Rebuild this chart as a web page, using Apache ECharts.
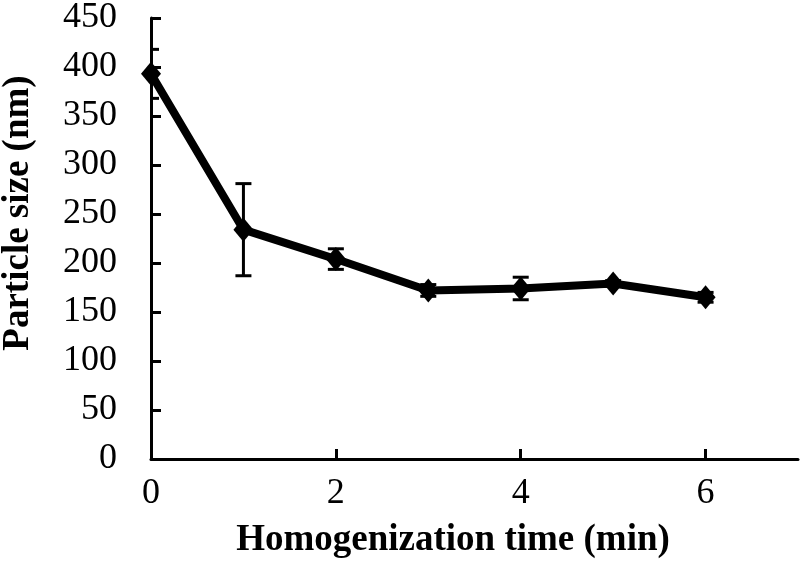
<!DOCTYPE html>
<html><head><meta charset="utf-8">
<script src="https://cdn.jsdelivr.net/npm/echarts@6/dist/echarts.min.js"></script>
<style>html,body{margin:0;padding:0;background:#fff}#c{width:800px;height:567px}</style>
</head><body><div id="c"></div>
<script>
const times = [0, 1, 2, 3, 4, 5, 6];
const sizes = [393, 234, 204, 172, 174, 179, 165];
const errors = [25, 47, 10.5, 6, 11.5, 3, 5];
const xTitle = 'Homogenization time (min)';
const yTitle = 'Particle size (nm)';
const FONT = '"Liberation Serif", "Times New Roman", serif';

const chart = echarts.init(document.getElementById('c'));
const lineData = times.map((t, i) => [t, sizes[i]]);
const errData = times.map((t, i) => [t, sizes[i] - errors[i], sizes[i] + errors[i]]);

chart.setOption({
  animation: false,
  grid: {left: 151, top: 14, right: 2, bottom: 108},
  xAxis: {
    type: 'value', min: 0, max: 7, interval: 2,
    axisLine: {lineStyle: {color: '#000', width: 3}},
    axisTick: {inside: true, length: 10, lineStyle: {color: '#000', width: 3}},
    axisLabel: {color: '#000', fontFamily: FONT, fontSize: 36, margin: 17, showMaxLabel: false},
    splitLine: {show: false}
  },
  yAxis: {
    type: 'value', min: 0, max: 450, interval: 50,
    axisLine: {show: true, lineStyle: {color: '#000', width: 3}},
    axisTick: {show: true, inside: true, length: 10, lineStyle: {color: '#000', width: 3}},
    axisLabel: {color: '#000', fontFamily: FONT, fontSize: 36, margin: 34},
    splitLine: {show: false}
  },
  graphic: [
    {type: 'text', style: {text: xTitle, font: 'bold 37px ' + FONT, fill: '#000', textAlign: 'center', textVerticalAlign: 'middle'}, x: 453, y: 540},
    {type: 'text', style: {text: yTitle, font: 'bold 37px ' + FONT, fill: '#000', textAlign: 'center', textVerticalAlign: 'middle'}, x: 18, y: 213, rotation: Math.PI / 2}
  ],
  series: [
    {
      type: 'custom',
      data: errData,
      z: 3,
      clip: true,
      renderItem: function (params, api) {
        const x = api.value(0);
        const lo = api.coord([x, api.value(1)]);
        const hi = api.coord([x, api.value(2)]);
        const w = 8;
        const st = {stroke: '#000', lineWidth: 3};
        return {type: 'group', children: [
          {type: 'line', shape: {x1: lo[0], y1: lo[1], x2: hi[0], y2: hi[1]}, style: st},
          {type: 'line', shape: {x1: lo[0] - w, y1: lo[1], x2: lo[0] + w, y2: lo[1]}, style: st},
          {type: 'line', shape: {x1: hi[0] - w, y1: hi[1], x2: hi[0] + w, y2: hi[1]}, style: st}
        ]};
      }
    },
    {
      type: 'line',
      data: lineData,
      z: 4,
      symbol: 'diamond',
      symbolSize: [20, 24],
      showAllSymbol: true,
      lineStyle: {color: '#000', width: 8},
      itemStyle: {color: '#000'}
    }
  ]
});
</script>
</body></html>
